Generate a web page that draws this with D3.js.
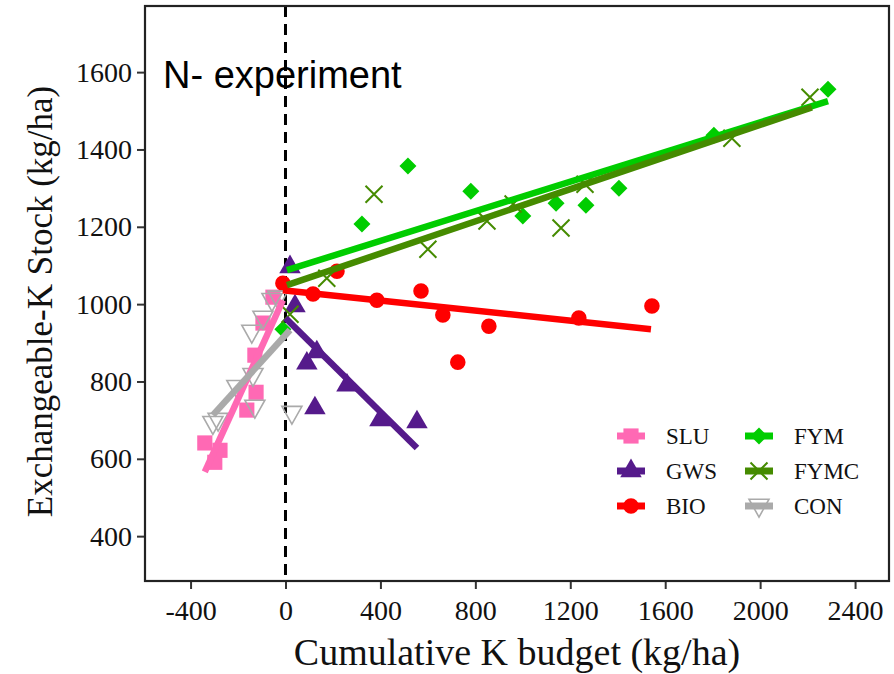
<!DOCTYPE html>
<html>
<head>
<meta charset="utf-8">
<script src="https://cdn.jsdelivr.net/npm/d3@7"></script>
<style>
  html, body { margin: 0; padding: 0; background: #fff; }
  svg { display: block; }
</style>
</head>
<body>
<svg id="chart" width="894" height="674"></svg>
<script>
// Treatments of the N- experiment
const treatments = ["SLU", "GWS", "BIO", "FYM", "FYMC", "CON"];

// Cumulative K budget (kg/ha) and exchangeable-K stock (kg/ha) per treatment
const sluBudget = [-53, -95, -129, -124, -163, -340, -276, -298];
const sluStock  = [1018, 951, 868, 772, 726, 641, 622, 591];

const gwsBudget = [19, 40, 90, 124, 132, 259, 398, 554];
const gwsStock  = [1096, 995, 847, 731, 876, 790, 700, 695];

const bioBudget = [-11, 116, 217, 385, 571, 663, 726, 857, 1236, 1544];
const bioStock  = [1054, 1026, 1085, 1010, 1034, 972, 850, 943, 964, 995];

const fymBudget = [-11, 322, 516, 781, 1000, 1140, 1266, 1405, 1805, 2286];
const fymStock  = [935, 1207, 1357, 1292, 1228, 1261, 1256, 1300, 1437, 1556];

const fymcBudget = [19, 174, 373, 600, 849, 959, 1161, 1262, 1881, 2210];
const fymcStock  = [974, 1067, 1284, 1142, 1215, 1259, 1197, 1310, 1429, 1535];

const conBudget = [-57, -32, -95, -142, -137, -205, -129, -306, -284, 27];
const conStock  = [1010, 1016, 964, 928, 816, 785, 734, 692, 700, 718];

// Linear trend per treatment: [start, end] budget and stock
const fitBudget = {
  SLU: [-340, -11], GWS: [0, 554], BIO: [-11, 1540],
  FYM: [6, 2286], FYMC: [6, 2218], CON: [-306, 19]
};
const fitStock = {
  SLU: [566, 1010], GWS: [964, 628], BIO: [1036, 935],
  FYM: [1088, 1525], FYMC: [1049, 1509], CON: [713, 933]
};

const xTicks = [-400, 0, 400, 800, 1200, 1600, 2000, 2400];
const yTicks = [400, 600, 800, 1000, 1200, 1400, 1600];

const budgets = { SLU: sluBudget, GWS: gwsBudget, BIO: bioBudget, FYM: fymBudget, FYMC: fymcBudget, CON: conBudget };
const stocks  = { SLU: sluStock,  GWS: gwsStock,  BIO: bioStock,  FYM: fymStock,  FYMC: fymcStock,  CON: conStock };

const colors = {
  SLU: "#FF69B4", GWS: "#551A8B", BIO: "#FF0000",
  FYM: "#00CD00", FYMC: "#458B00", CON: "#AAAAAA"
};

const panel = { left: 145, right: 889, top: 6, bottom: 581 };

const x = d3.scaleLinear().domain([-592, 2543]).range([panel.left, panel.right]);
const y = d3.scaleLinear().domain([284, 1771]).range([panel.bottom, panel.top]);

const svg = d3.select("#chart");
const serif = "'Liberation Serif', 'Times New Roman', serif";
const sans = "'Liberation Sans', Arial, sans-serif";

// Marker shapes
function markerPath(name) {
  switch (name) {
    case "SLU": return d3.symbol(d3.symbolSquare, 230)();
    case "GWS": return d3.symbol(d3.symbolTriangle, 200)();
    case "BIO": return d3.symbol(d3.symbolCircle, 190)();
    case "FYM": {
      const r = 8.5;
      return `M0,${-r}L${r},0L0,${r}L${-r},0Z`;
    }
    case "FYMC": {
      const r = 8.5;
      return `M${-r},${-r}L${r},${r}M${-r},${r}L${r},${-r}`;
    }
    case "CON": {
      const w = 10, h = 8.5;
      return `M${-w},${-h * 0.8}L${w},${-h * 0.8}L0,${h * 1.3}Z`;
    }
  }
}

function styleMarker(sel, name) {
  if (name === "FYMC") {
    sel.attr("fill", "none").attr("stroke", colors[name]).attr("stroke-width", 2);
  } else if (name === "CON") {
    sel.attr("fill", "none").attr("stroke", colors[name]).attr("stroke-width", 1.6);
  } else {
    sel.attr("fill", colors[name]).attr("stroke", "none");
  }
}

// Axes
const xAxis = svg.append("g")
  .attr("transform", `translate(0,${panel.bottom})`)
  .call(d3.axisBottom(x).tickValues(xTicks).tickSize(8).tickPadding(6).tickFormat(d3.format("d")));
const yAxis = svg.append("g")
  .attr("transform", `translate(${panel.left},0)`)
  .call(d3.axisLeft(y).tickValues(yTicks).tickSize(8).tickPadding(5).tickFormat(d3.format("d")));

[xAxis, yAxis].forEach(a => {
  a.select(".domain").remove();
  a.selectAll(".tick line").attr("stroke", "#333").attr("stroke-width", 2);
  a.selectAll(".tick text").attr("fill", "#111").style("font-family", serif).style("font-size", "28px");
});
xAxis.selectAll(".tick text").attr("dy", "0.88em");
xAxis.selectAll(".tick text").text(d => d < 0 ? "-" + Math.abs(d) : d);

// Zero-budget reference line
svg.append("line")
  .attr("x1", x(0)).attr("x2", x(0))
  .attr("y1", panel.top).attr("y2", panel.bottom)
  .attr("stroke", "#000").attr("stroke-width", 3)
  .attr("stroke-dasharray", "11,7");

// Points
treatments.forEach(name => {
  const pts = budgets[name].map((b, i) => [b, stocks[name][i]]);
  const g = svg.append("g");
  g.selectAll("path").data(pts).join("path")
    .attr("d", markerPath(name))
    .attr("transform", d => `translate(${x(d[0])},${y(d[1])})`)
    .call(styleMarker, name);
});

// Trend lines
const line = d3.line().x(d => x(d[0])).y(d => y(d[1]));
treatments.forEach(name => {
  const seg = fitBudget[name].map((b, i) => [b, fitStock[name][i]]);
  svg.append("path")
    .attr("d", line(seg))
    .attr("fill", "none")
    .attr("stroke", colors[name])
    .attr("stroke-width", 6.5);
});

// Panel border
svg.append("rect")
  .attr("x", panel.left).attr("y", panel.top)
  .attr("width", panel.right - panel.left).attr("height", panel.bottom - panel.top)
  .attr("fill", "none").attr("stroke", "#222").attr("stroke-width", 2.2);

// Panel label
svg.append("text")
  .attr("x", 163).attr("y", 88)
  .style("font-family", sans).style("font-size", "38px").attr("fill", "#000")
  .text("N- experiment");

// Axis titles
svg.append("text")
  .attr("x", (panel.left + panel.right) / 2).attr("y", 665)
  .attr("text-anchor", "middle")
  .style("font-family", serif).style("font-size", "38px").attr("fill", "#111")
  .text("Cumulative K budget (kg/ha)");

svg.append("text")
  .attr("transform", `translate(52,${(panel.top + panel.bottom) / 2 + 8}) rotate(-90)`)
  .attr("text-anchor", "middle")
  .style("font-family", serif).style("font-size", "35px").attr("fill", "#111")
  .text("Exchangeable-K Stock (kg/ha)");

// Legend
const legend = svg.append("g");
treatments.forEach((name, i) => {
  const col = Math.floor(i / 3), row = i % 3;
  const kx = 631 + col * 128, ky = 436 + row * 35;
  const item = legend.append("g").attr("transform", `translate(${kx},${ky})`);
  item.append("line").attr("x1", -14).attr("x2", 14)
    .attr("stroke", colors[name]).attr("stroke-width", 7);
  item.append("path").attr("d", markerPath(name)).call(styleMarker, name);
  item.append("text").attr("x", 35).attr("dy", "0.35em")
    .style("font-family", serif).style("font-size", "23px").attr("fill", "#111")
    .text(name);
});
</script>
</body>
</html>
